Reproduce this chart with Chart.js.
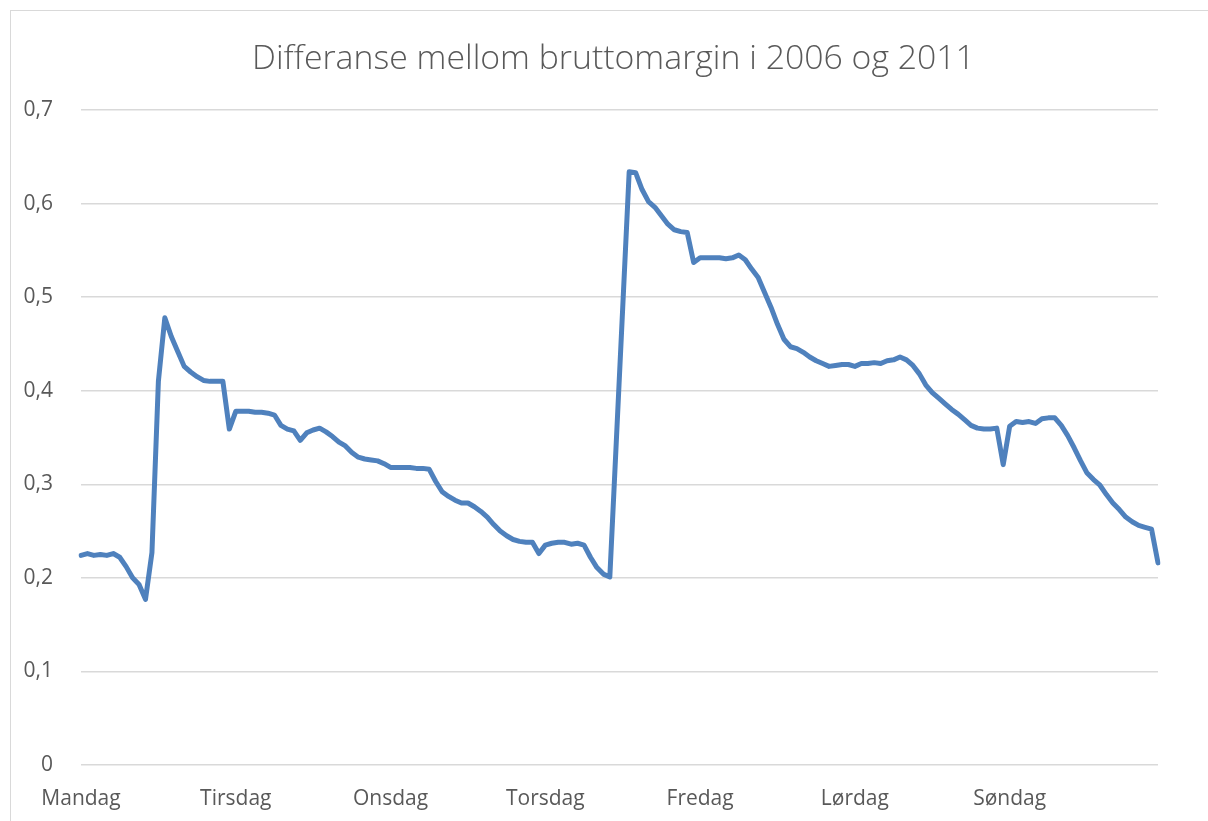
<!DOCTYPE html>
<html lang="no">
<head>
<meta charset="utf-8">
<title>Differanse mellom bruttomargin i 2006 og 2011</title>
<script src="https://cdn.jsdelivr.net/npm/chart.js@4.4.1/dist/chart.umd.min.js"></script>
<style>
  html, body { margin: 0; padding: 0; background: #fff; overflow: hidden; }
  #wrap { position: relative; width: 1208px; height: 821px; }
  #frame { position: absolute; left: 10px; top: 10px; width: 1400px; height: 1000px; border: 1px solid #d9d9d9; pointer-events: none; }
</style>
</head>
<body>
<div id="wrap">
  <canvas id="chart" width="1208" height="821"></canvas>
  <div id="frame"></div>
</div>
<script>
// データ
const chartTitle = 'Differanse mellom bruttomargin i 2006 og 2011'
const dayNames = ['Mandag', 'Tirsdag', 'Onsdag', 'Torsdag', 'Fredag', 'Lørdag', 'Søndag']
const hoursPerDay = 24

const mandag = [0.224, 0.226, 0.224, 0.225, 0.224, 0.226, 0.222, 0.212, 0.200, 0.193, 0.177, 0.227,
  0.410, 0.478, 0.458, 0.442, 0.426, 0.420, 0.415, 0.411, 0.410, 0.410, 0.410, 0.359]
const tirsdag = [0.378, 0.378, 0.378, 0.377, 0.377, 0.376, 0.374, 0.363, 0.359, 0.357, 0.347, 0.355,
  0.358, 0.360, 0.356, 0.351, 0.345, 0.341, 0.334, 0.329, 0.327, 0.326, 0.325, 0.322]
const onsdag = [0.318, 0.318, 0.318, 0.318, 0.317, 0.317, 0.316, 0.303, 0.292, 0.287, 0.283, 0.280,
  0.280, 0.276, 0.271, 0.265, 0.257, 0.250, 0.245, 0.241, 0.239, 0.238, 0.238, 0.226]
const torsdag = [0.235, 0.237, 0.238, 0.238, 0.236, 0.237, 0.235, 0.222, 0.211, 0.204, 0.201, 0.345,
  0.489, 0.634, 0.633, 0.615, 0.602, 0.596, 0.587, 0.578, 0.572, 0.570, 0.569, 0.537]
const fredag = [0.542, 0.542, 0.542, 0.542, 0.541, 0.542, 0.545, 0.540, 0.530, 0.521, 0.505, 0.489,
  0.471, 0.455, 0.447, 0.445, 0.441, 0.436, 0.432, 0.429, 0.426, 0.427, 0.428, 0.428]
const lordag = [0.426, 0.429, 0.429, 0.430, 0.429, 0.432, 0.433, 0.436, 0.433, 0.427, 0.418, 0.406,
  0.398, 0.392, 0.386, 0.380, 0.375, 0.369, 0.363, 0.360, 0.359, 0.359, 0.360, 0.321]
const sondag = [0.362, 0.367, 0.366, 0.367, 0.365, 0.370, 0.371, 0.371, 0.363, 0.352, 0.339, 0.325,
  0.312, 0.305, 0.299, 0.289, 0.280, 0.273, 0.265, 0.260, 0.256, 0.254, 0.252, 0.216]

const yTickLabels = ['0', '0,1', '0,2', '0,3', '0,4', '0,5', '0,6', '0,7']

const textColor = '#595959'
const gridColor = '#d9d9d9'
const lineColor = '#4f81bd'
const fontFamily = "'Open Sans', sans-serif"

function buildSeries() {
  return [].concat(mandag, tirsdag, onsdag, torsdag, fredag, lordag, sondag)
}

function buildLabels(count) {
  const labels = []
  for (let i = 0; i < count; i++) {
    labels.push(i % hoursPerDay === 0 ? dayNames[i / hoursPerDay] : '')
  }
  return labels
}

// タイトルはチャート枠の中央に描く
const frameTitle = {
  id: 'frameTitle',
  afterDraw(chart) {
    const ctx = chart.ctx
    ctx.save()
    ctx.font = '300 33.8px ' + fontFamily
    ctx.fillStyle = textColor
    ctx.textAlign = 'center'
    ctx.textBaseline = 'middle'
    ctx.fillText(chartTitle, 613.5, 59)
    ctx.restore()
  }
}

function renderChart() {
  const values = buildSeries()
  const labels = buildLabels(values.length)
  const ctx = document.getElementById('chart').getContext('2d')

  new Chart(ctx, {
    type: 'line',
    data: {
      labels: labels,
      datasets: [{
        label: chartTitle,
        data: values,
        borderColor: lineColor,
        borderWidth: 5,
        pointRadius: 0,
        tension: 0,
        fill: false,
        borderJoinStyle: 'round',
        borderCapStyle: 'round'
      }]
    },
    plugins: [frameTitle],
    options: {
      responsive: false,
      animation: false,
      devicePixelRatio: 1,
      layout: {
        padding: { left: 10, right: 50, top: 110, bottom: 11 }
      },
      plugins: {
        legend: { display: false },
        tooltip: { enabled: false },
        title: { display: false }
      },
      scales: {
        x: {
          type: 'category',
          offset: false,
          afterFit: function(scale) {
            scale.height = 45
          },
          grid: { display: false, drawTicks: false },
          border: { display: false },
          ticks: {
            autoSkip: false,
            maxRotation: 0,
            minRotation: 0,
            padding: 21,
            color: textColor,
            font: { family: fontFamily, size: 21 },
            callback: function(value, index) {
              return labels[index]
            }
          }
        },
        y: {
          min: 0,
          max: 0.7,
          afterFit: function(scale) {
            scale.width = 71
          },
          grid: { color: gridColor, lineWidth: 1.5, drawTicks: false },
          border: { display: false },
          ticks: {
            stepSize: 0.1,
            padding: 28,
            color: textColor,
            font: { family: fontFamily, size: 21 },
            callback: function(value, index) {
              return yTickLabels[index]
            }
          }
        }
      }
    }
  })
}

renderChart()
</script>
</body>
</html>
